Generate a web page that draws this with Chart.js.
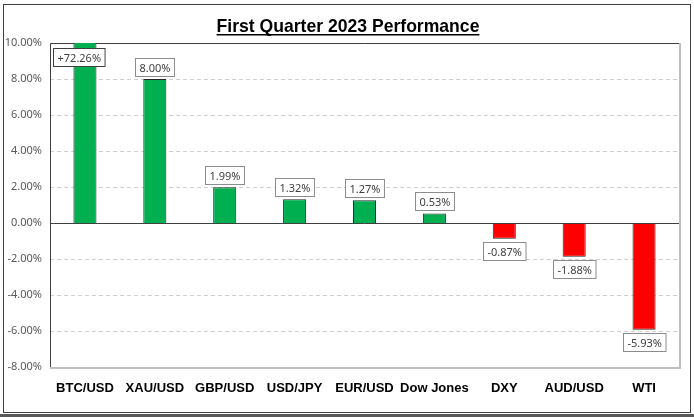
<!DOCTYPE html>
<html>
<head>
<meta charset="utf-8">
<script src="https://cdn.jsdelivr.net/npm/chart.js@4.4.0/dist/chart.umd.min.js"></script>
<style>
  html, body { margin: 0; padding: 0; background: #fff; }
  #wrap { width: 694px; height: 417px; }
</style>
</head>
<body>
<div id="wrap"><canvas id="perf" width="694" height="417"></canvas></div>
<script>
// data
const categories = ['BTC/USD', 'XAU/USD', 'GBP/USD', 'USD/JPY', 'EUR/USD', 'Dow Jones', 'DXY', 'AUD/USD', 'WTI'];
const changes = [72.26, 8.00, 1.99, 1.32, 1.27, 0.53, -0.87, -1.88, -5.93];
const yMin = -8;
const yMax = 10;
const yStep = 2;
const titleText = 'First Quarter 2023 Performance';

const barColors = changes.map(v => v >= 0 ? '#00B050' : '#FF0000');

// frame, title, grid lines and plot border
const framePlugin = {
  id: 'frame',
  beforeDraw(chart) {
    const ctx = chart.ctx;
    ctx.save();
    ctx.fillStyle = '#fff';
    ctx.fillRect(0, 0, chart.width, chart.height);
    ctx.strokeStyle = '#404040';
    ctx.lineWidth = 1;
    ctx.strokeRect(3.5, 4.5, 687, 408);
    ctx.fillStyle = '#595959';
    ctx.fillRect(0, 414, chart.width, 3);

    // title, fitted to the reference width
    let size = 18;
    ctx.font = 'bold ' + size + 'px "Liberation Sans"';
    size = size * 263 / ctx.measureText(titleText).width;
    ctx.font = 'bold ' + size + 'px "Liberation Sans"';
    const w = ctx.measureText(titleText).width;
    ctx.fillStyle = '#000';
    ctx.textAlign = 'center';
    ctx.textBaseline = 'alphabetic';
    ctx.fillText(titleText, 348, 32);
    ctx.fillRect(348 - w / 2, 34, w, 1.5);
    ctx.restore();
  },
  beforeDatasetsDraw(chart) {
    const ctx = chart.ctx;
    const area = chart.chartArea;
    const y = chart.scales.y;
    ctx.save();
    y.ticks.forEach(t => {
      if (t.value === yMin || t.value === yMax || t.value === 0) return;
      const py = Math.round(y.getPixelForValue(t.value)) + 0.5;
      ctx.strokeStyle = '#d0d0d0';
      ctx.lineWidth = 1;
      ctx.setLineDash([4, 3]);
      ctx.beginPath();
      ctx.moveTo(area.left, py);
      ctx.lineTo(area.right, py);
      ctx.stroke();
    });
    ctx.setLineDash([]);
    // right and bottom border light
    ctx.strokeStyle = '#bfbfbf';
    ctx.lineWidth = 2;
    ctx.beginPath();
    ctx.moveTo(area.right + 1, area.top);
    ctx.lineTo(area.right + 1, area.bottom + 1);
    ctx.lineTo(area.left, area.bottom + 1);
    ctx.stroke();
    // top and left border dark
    ctx.strokeStyle = '#404040';
    ctx.lineWidth = 1;
    ctx.beginPath();
    ctx.moveTo(area.right, area.top + 0.5);
    ctx.lineTo(area.left + 0.5, area.top + 0.5);
    ctx.lineTo(area.left + 0.5, area.bottom);
    ctx.stroke();
    ctx.restore();
  },
  afterDatasetsDraw(chart) {
    const ctx = chart.ctx;
    const area = chart.chartArea;
    const y = chart.scales.y;
    const zero = Math.round(y.getPixelForValue(0)) + 0.5;
    ctx.save();
    ctx.strokeStyle = '#404040';
    ctx.lineWidth = 1;
    ctx.beginPath();
    ctx.moveTo(area.left, zero);
    ctx.lineTo(area.right, zero);
    ctx.stroke();
    ctx.restore();
  }
};

// boxed value labels
const labelPlugin = {
  id: 'boxLabels',
  afterDatasetsDraw(chart) {
    const ctx = chart.ctx;
    const area = chart.chartArea;
    const meta = chart.getDatasetMeta(0);
    ctx.save();
    ctx.font = '11px "Noto Sans"';
    ctx.textAlign = 'center';
    ctx.textBaseline = 'middle';
    meta.data.forEach((bar, i) => {
      const v = changes[i];
      let text = v.toFixed(2) + '%';
      if (v > yMax) text = '+' + text;
      const tw = ctx.measureText(text).width;
      const bw = tw + 8;
      const bh = 18;
      let cx = bar.x;
      let top;
      if (v > yMax) {
        top = area.top + 5;
        cx = bar.x - 6;
      } else if (v >= 0) {
        top = bar.y - 3 - bh;
      } else {
        top = bar.y + 3;
      }
      const left = Math.round(cx - bw / 2) + 0.5;
      top = Math.round(top) + 0.5;
      ctx.fillStyle = '#fff';
      ctx.fillRect(left, top, bw, bh);
      ctx.strokeStyle = v > yMax ? '#404040' : '#8c8c8c';
      ctx.lineWidth = 1;
      ctx.strokeRect(left, top, bw, bh);
      ctx.fillStyle = '#404040';
      ctx.fillText(text, left + bw / 2, top + bh / 2 + 1);
    });
    ctx.restore();
  }
};

const ctx = document.getElementById('perf').getContext('2d');
new Chart(ctx, {
  type: 'bar',
  data: {
    labels: categories,
    datasets: [{
      data: changes,
      backgroundColor: barColors,
      borderColor: '#262626',
      borderWidth: 1,
      barPercentage: 0.33,
      categoryPercentage: 1
    }]
  },
  options: {
    responsive: false,
    animation: false,
    devicePixelRatio: 1,
    layout: { padding: { top: 43, left: 3, right: 15, bottom: 0 } },
    plugins: {
      legend: { display: false },
      title: { display: false },
      tooltip: { enabled: false }
    },
    scales: {
      x: {
        grid: { display: false, drawTicks: false },
        border: { display: false },
        ticks: {
          color: '#000',
          padding: 14,
          font: { family: '"Liberation Sans"', size: 13, weight: 'bold' },
          maxRotation: 0,
          autoSkip: false
        },
        afterFit(scale) { scale.height = 50; }
      },
      y: {
        min: yMin,
        max: yMax,
        grid: { display: false, drawTicks: false },
        border: { display: false },
        ticks: {
          stepSize: yStep,
          color: '#595959',
          padding: 8,
          font: { family: '"Noto Sans"', size: 11 },
          callback: value => value.toFixed(2) + '%'
        },
        afterFit(scale) { scale.width = 47; }
      }
    }
  },
  plugins: [framePlugin, labelPlugin]
});
</script>
</body>
</html>
